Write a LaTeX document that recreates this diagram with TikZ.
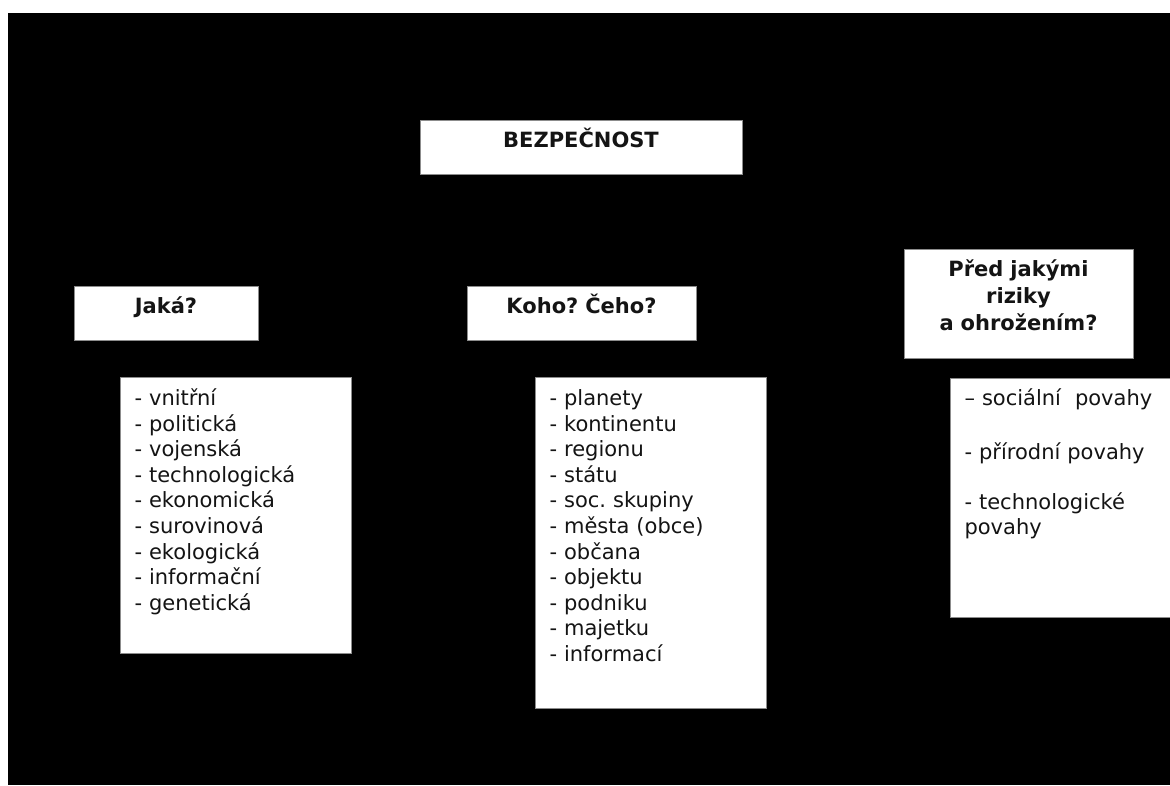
\documentclass[tikz,border=0pt]{standalone}
\usepackage{fontspec}
\setmainfont{DejaVu Sans}
\usepackage{tikz}
\usetikzlibrary{positioning}
\definecolor{boxedge}{HTML}{8C8C8C}
\definecolor{inkgray}{HTML}{141414}
\frenchspacing

\begin{document}
\begin{tikzpicture}[x=1pt, y=-1pt,
    head/.style={draw=boxedge, fill=white, line width=1pt, inner xsep=0pt, inner ysep=0pt,
      align=center, anchor=north, text=inkgray, font=\fontsize{21}{27}\selectfont\bfseries},
    list/.style={draw=boxedge, fill=white, line width=1pt, inner xsep=14pt, inner ysep=0pt,
      text width=203pt, align=left, anchor=north west, text=inkgray,
      font=\fontsize{21}{25.6}\selectfont, text height=28pt}]
    \useasboundingbox (0,0) rectangle (1170,785);
    \fill[white] (0,0) rectangle (1170,785);
    \fill[black] (8,13) rectangle (1170,785);
    \node[head, text width=322pt, text height=27pt, text depth=27pt] (bezp) at (581,120) {BEZPEČNOST};
    \node[head, text width=184pt, text height=27pt, text depth=27pt] (jaka) at (166,286) {Jaká?};
    \node[head, text width=229pt, text height=27pt, text depth=27pt] (koho) at (581.5,286) {Koho? Čeho?};
    \node[head, text width=229pt, text height=27pt, text depth=82pt] (pred) at (1018.5,249)
      {Před jakými\\ riziky\\ a ohrožením?};
    \node[list, text depth=248pt] (druhy) at (120,377)
      {- vnitřní\\ - politická\\ - vojenská\\ - technologická\\ - ekonomická\\
       - surovinová\\ - ekologická\\ - informační\\ - genetická};
    \node[list, text depth=303pt] (objekty) at (535,377)
      {- planety\\ - kontinentu\\ - regionu\\ - státu\\ - soc. skupiny\\ - města (obce)\\
       - občana\\ - objektu\\ - podniku\\ - majetku\\ - informací};
    \node[list, text width=222pt, text height=27pt, text depth=212pt] (rizika) at (950,378)
      {– sociální\ \ povahy\\[28.4pt] - přírodní povahy\\[24.4pt] - technologické\\[-1pt] povahy};
  \end{tikzpicture}
\end{document}
